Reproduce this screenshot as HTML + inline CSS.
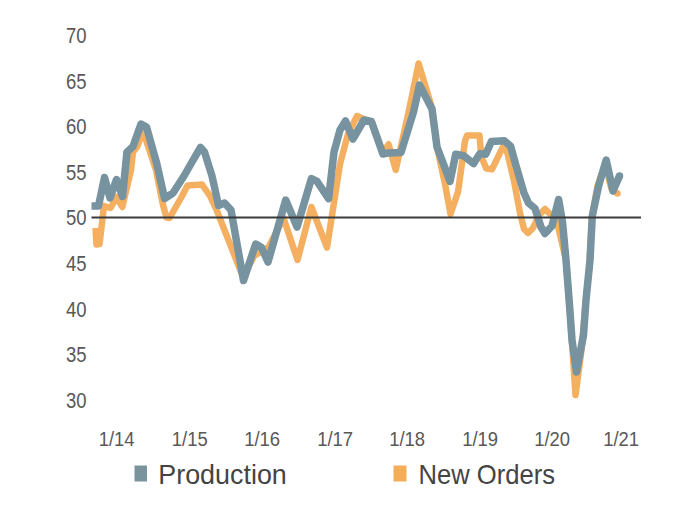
<!DOCTYPE html>
<html><head><meta charset="utf-8"><style>
html,body{margin:0;padding:0;background:#fff;width:700px;height:525px;overflow:hidden}
svg{position:absolute;left:0;top:0}
text{font-family:"Liberation Sans",sans-serif}
</style></head><body>
<svg width="700" height="525" viewBox="0 0 700 525">
<g fill="#585858" font-size="21.5">
<text transform="translate(65.9,42.95) scale(0.86,1)">70</text>
<text transform="translate(65.9,88.60) scale(0.86,1)">65</text>
<text transform="translate(65.9,134.20) scale(0.86,1)">60</text>
<text transform="translate(65.9,179.80) scale(0.86,1)">55</text>
<text transform="translate(65.9,225.45) scale(0.86,1)">50</text>
<text transform="translate(65.9,271.10) scale(0.86,1)">45</text>
<text transform="translate(65.9,316.70) scale(0.86,1)">40</text>
<text transform="translate(65.9,362.30) scale(0.86,1)">35</text>
<text transform="translate(65.9,407.95) scale(0.86,1)">30</text>
</g>
<polyline points="95.5,228.0 96.5,244.5 99.5,244.0 104.0,206.0 110.5,208.0 116.6,197.0 122.3,207.0 131.0,170.0 133.0,152.0 137.0,147.0 143.0,131.0 156.0,170.0 163.0,205.0 166.5,217.5 169.5,218.0 181.0,198.0 187.5,185.5 202.0,184.5 210.0,196.0 217.0,211.0 243.0,277.0 254.3,255.7 268.6,247.0 283.5,218.0 297.5,260.0 311.4,207.0 327.0,247.5 340.0,164.0 348.0,134.0 357.0,116.0 366.0,120.0 372.0,122.0 382.5,153.0 388.6,144.3 395.7,170.0 409.5,108.0 418.6,63.5 432.0,108.0 437.0,147.0 445.0,184.0 450.5,214.0 458.0,192.0 465.0,141.0 467.0,135.5 479.5,135.5 481.4,157.0 486.4,168.6 492.0,169.3 500.7,151.4 505.0,142.9 514.0,181.0 520.0,213.0 524.0,229.0 528.0,233.0 533.0,228.0 539.0,215.0 545.0,209.0 551.0,215.0 557.0,222.0 566.0,260.0 569.5,305.0 572.5,350.0 575.5,395.0 581.5,350.0 585.5,305.0 589.5,265.0 592.0,216.0 597.5,186.0 605.0,164.0 611.5,189.0 617.5,193.5" fill="none" stroke="#f4b060" stroke-width="6.5" stroke-linejoin="round" stroke-linecap="butt"/>
<circle cx="617.5" cy="193.5" r="3.25" fill="#f4b060"/>
<polyline points="91.5,206.0 98.5,206.0 104.5,177.5 110.0,198.0 116.5,179.5 122.5,196.5 127.0,152.0 133.0,146.5 141.0,124.0 146.5,127.0 156.6,162.9 164.6,198.5 173.0,193.0 184.0,176.0 192.0,162.0 200.5,147.5 204.5,152.0 212.0,176.0 218.5,205.5 224.5,203.0 231.0,210.0 243.5,280.5 255.7,244.0 261.5,247.5 268.0,262.0 285.7,200.0 297.1,227.0 311.4,178.6 317.0,181.4 328.6,198.6 334.0,152.0 340.0,130.0 345.5,121.0 352.9,139.0 364.0,120.0 371.4,121.4 382.9,154.0 388.6,152.9 401.0,152.5 413.5,112.0 419.5,85.0 432.0,109.0 437.0,147.0 450.0,181.4 455.7,154.3 463.6,155.7 473.6,163.6 480.0,153.6 485.7,154.3 491.4,141.4 504.3,140.7 510.7,146.4 516.4,167.0 524.0,193.0 528.5,203.0 535.0,208.5 541.0,227.0 545.0,233.5 552.0,226.0 558.6,199.5 562.5,222.0 566.0,260.0 569.5,305.0 572.0,340.0 576.5,372.0 583.5,335.0 586.0,300.0 590.0,260.0 592.3,216.0 598.6,186.0 606.2,160.0 613.0,191.0 619.5,176.0" fill="none" stroke="#7893a0" stroke-width="7.5" stroke-linejoin="round" stroke-linecap="butt"/>
<circle cx="619.5" cy="176" r="3.75" fill="#7893a0"/>
<line x1="91.5" y1="217.5" x2="641" y2="217.5" stroke="#3a3a3a" stroke-width="2"/>
<g fill="#585858" font-size="20.5">
<text transform="translate(98.7,445.5) scale(0.9,1)">1/14</text>
<text transform="translate(171.8,445.5) scale(0.9,1)">1/15</text>
<text transform="translate(244.2,445.5) scale(0.9,1)">1/16</text>
<text transform="translate(317.2,445.5) scale(0.9,1)">1/17</text>
<text transform="translate(389.2,445.5) scale(0.9,1)">1/18</text>
<text transform="translate(462.2,445.5) scale(0.9,1)">1/19</text>
<text transform="translate(534.2,445.5) scale(0.9,1)">1/20</text>
<text transform="translate(603.2,445.5) scale(0.9,1)">1/21</text>
</g>
<rect x="134.5" y="465.5" width="12.5" height="16" fill="#7a949e"/>
<rect x="393.5" y="465.5" width="13" height="16" fill="#f5ae58"/>
<g fill="#444" font-size="28">
<text transform="translate(158.3,483.9) scale(0.96,1)">Production</text>
<text transform="translate(418.5,483.9) scale(0.915,1)">New Orders</text>
</g>
</svg>
</body></html>
